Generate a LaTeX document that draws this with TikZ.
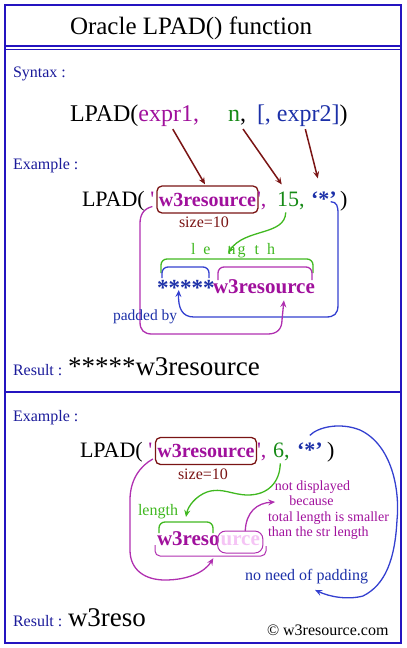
\documentclass[tikz,border=0pt]{standalone}
\usepackage{fontspec}
\setmainfont{Liberation Serif}
\newfontfamily\rs{Liberation Serif}
\usetikzlibrary{arrows.meta}
\definecolor{frameblue}{HTML}{2414C0}
\definecolor{lblblue}{HTML}{1A1A9A}
\definecolor{txtblue}{HTML}{1C30A8}
\definecolor{lineblue}{HTML}{3440D0}
\definecolor{purp}{HTML}{A0109C}
\definecolor{purpline}{HTML}{B030B0}
\definecolor{darkgreen}{HTML}{168A16}
\definecolor{ltgreen}{HTML}{40B820}
\definecolor{darkred}{HTML}{7A1414}
\definecolor{pinkish}{HTML}{F5C4F5}
\newcommand{\fz}[1]{\rs\fontsize{#1}{#1}\selectfont}
\begin{document}
\begin{tikzpicture}[x=1pt,y=-1pt,
  txt/.style={inner sep=0pt, outer sep=0pt, anchor=base west},
  lbl/.style={txt, text=lblblue, font=\fz{16}},
  tip/.style={-{Stealth[length=7pt,width=6pt,inset=2.5pt]}},
  redarr/.style={tip, draw=darkred, line width=1.5pt},
  grarr/.style={tip, draw=ltgreen, line width=1.3pt},
  blarr/.style={tip, draw=lineblue, line width=1.3pt},
  pparr/.style={tip, draw=purpline, line width=1.3pt},
  brace/.style={rounded corners=6pt, line width=1.3pt},
  strbox/.style={draw=darkred, line width=1.3pt, rounded corners=5pt, inner sep=0pt,
     minimum width=101pt, minimum height=27pt, text=purp, font=\fz{20}\bfseries}
]
\useasboundingbox (0,0) rectangle (407,648);
% frame
\draw[frameblue, line width=2pt] (5,5) rectangle (401,643);
\draw[frameblue, line width=1.2pt] (5,46) -- (401,46);
\draw[frameblue, line width=1.2pt] (5,49.5) -- (401,49.5);
\draw[frameblue, line width=1.2pt] (5,392) -- (401,392);

% title
\node[txt, font=\fz{25}] (title) at (70,34) {Oracle LPAD() function};

% syntax
\node[lbl] (syn) at (13,77) {Syntax :};
\node[txt, font=\fz{24}] (lp0) at (70,121) {LPAD(};
\node[txt, font=\fz{24}, text=purp] (e1) at (lp0.base east) {expr1,};
\node[txt, font=\fz{24}, text=darkgreen] (nn0) at (228,121) {n};
\node[txt, font=\fz{24}] (cm0) at (nn0.base east) {,};
\node[txt, font=\fz{24}, text=txtblue] (e2) at (257,121) {[, expr2]};
\node[txt, font=\fz{24}] (rp0) at (e2.base east) {)};

% example 1
\node[lbl] (ex1) at (13,169) {Example :};
\node[txt, font=\fz{22}] (lp1) at (82,206) {LPAD( \textcolor{purp}{'}};
\node[strbox] (box1) at (207.5,199.5) {w3resource};
\node[txt, font=\fz{22}, text=purp] (q1) at (257,206) {',};
\node[txt, font=\fz{22}, text=darkgreen] (n15) at (277,206) {15,};
\node[txt, font=\fz{22}\bfseries, text=txtblue] (st1) at (311,206) {‘*’};
\node[txt, font=\fz{22}] (rp1) at (340,206) {)};
\node[txt, font=\fz{16}, text=darkred] (sz1) at (179,227) {size=10};

\draw[redarr] ([xshift=4pt,yshift=-3pt]e1.south) -- ([xshift=-2.5pt,yshift=1pt]box1.north);
\draw[redarr] ([xshift=9pt,yshift=-8pt]nn0.south) -- ([xshift=-9pt,yshift=7pt]n15.north);
\draw[redarr] ([xshift=7pt,yshift=-3pt]e2.south) -- ([xshift=-6pt,yshift=13pt]st1.north);

\node[txt, font=\fz{16}, text=ltgreen] (len1) at (191,254)
  {l\hspace{8pt}e\hspace{17pt}n\hspace{2pt}g\hspace{9pt}t\hspace{8pt}h};
\draw[grarr] ([xshift=-5pt,yshift=-3pt]n15.south) .. controls (285,236) and (245,228) .. ([xshift=37pt,yshift=1pt]len1.base west);

\draw[brace, ltgreen] (161,273) -- (161,259) -- (313,259) -- (313,273);
\draw[brace, lineblue] (162,278) -- (162,267) -- (209,267) -- (209,278);
\draw[brace, purpline] (218,280) -- (218,267) -- (312,267) -- (312,280);

\node[txt, font=\fz{23}\bfseries, text=txtblue] (ast) at (157,295) {*****};
\node[txt, font=\fz{21}\bfseries, text=purp] (w3a) at (213,293) {w3resource};

\draw[blarr] ([xshift=-6pt,yshift=-3pt]st1.east) .. controls (337,202) and (338,206) .. (338,214)
  -- (338,305) .. controls (338,314) and (334,317) .. (326,317)
  -- (194,317) .. controls (182,317) and (178,308) .. ([xshift=-7pt,yshift=5pt]ast.south);
\draw[pparr] ([xshift=-4pt,yshift=-7pt]box1.west) .. controls (143,209) and (140,215) .. (140,224)
  -- (140,322) .. controls (140,330) and (144,334) .. (152,334)
  -- (268,334) .. controls (277,334) and (282,329) .. (282,320) -- ([xshift=20pt,yshift=-7pt]w3a.south);

\node[txt, font=\fz{15.5}, text=txtblue] (pad) at (113,320) {padded by};

% result 1
\node[lbl] (res1) at (13,375) {Result :};
\node[txt, font=\fz{27}] (r1) at (68,375) {*****w3resource};

% example 2
\node[lbl] (ex2) at (13,421) {Example :};
\node[txt, font=\fz{22}] (lp2) at (80,457) {LPAD( \textcolor{purp}{'}};
\node[strbox] (box2) at (206,451) {w3resource};
\node[txt, font=\fz{22}, text=purp] (q2) at (257,457) {',};
\node[txt, font=\fz{22}, text=darkgreen] (n6) at (273,457) {6,};
\node[txt, font=\fz{22}\bfseries, text=txtblue] (st2) at (297,457) {‘*’};
\node[txt, font=\fz{22}] (rp2) at (327,457) {)};
\node[txt, font=\fz{16}, text=darkred] (sz2) at (178,479) {size=10};

\node[txt, font=\fz{16}, text=ltgreen] (len2) at (138,515) {length};
\draw[grarr] ([xshift=-1pt,yshift=-3pt]n6.south) .. controls (280,482) and (268,495) .. (248,495)
  .. controls (232,495) and (222,487) .. (207,492)
  .. controls (196,496) and (188,506) .. ([xshift=8pt,yshift=-2pt]len2.base east);

\draw[brace, ltgreen] (159,533) -- (159,522) -- (213,522) -- (213,533);

\node[txt, font=\fz{21}\bfseries, text=purp] (w3b) at (157,545) {w3reso};
\node[txt, font=\fz{21}\bfseries, text=pinkish, draw=purpline, line width=1pt,
  rounded corners=8pt, inner xsep=3pt, inner ysep=4pt, text depth=4pt]
  (urce) at ([xshift=-2pt]w3b.base east) {urce};
\draw[rounded corners=5pt, line width=1pt, purpline] (155,545) -- (155,556) -- (266,556) -- (266,546);

\draw[pparr] ([xshift=-2pt,yshift=-8pt]box2.west) .. controls (140,466) and (130,480) .. (130,500)
  -- (130,550) .. controls (130,570) and (145,580) .. (165,580)
  .. controls (188,580) and (205,572) .. ([xshift=25pt,yshift=-13pt]w3b.south);

\node[inner sep=0pt, anchor=base, font=\fz{14}, text=purp] (t1) at (312.5,490) {not displayed};
\node[inner sep=0pt, anchor=base, font=\fz{14}, text=purp] (t2) at (311.5,505) {because};
\node[txt, font=\fz{14}, text=purp] (t3) at (268,521) {total length is smaller};
\node[txt, font=\fz{14}, text=purp] (t4) at (268,536) {than the str length};

\draw[pparr] ([xshift=5pt]urce.north) .. controls (246,512) and (257,503) .. ([xshift=-14pt,yshift=3pt]t2.base west);

\node[txt, font=\fz{16}, text=txtblue] (nn) at (245,580) {no need of padding};
\draw[blarr] ([yshift=7pt]st2.north) .. controls (318,427) and (340,422) .. (360,430)
  .. controls (392,445) and (400,490) .. (397,520)
  .. controls (395,560) and (385,585) .. (363,596)
  .. controls (348,600) and (330,597) .. ([xshift=8.5pt,yshift=-6.5pt]nn.south);

% result 2
\node[lbl] (res2) at (13,626) {Result :};
\node[txt, font=\fz{27}] (r2) at (68,626) {w3reso};
\node[txt, font=\fz{16}] (copy) at (267,635) {© w3resource.com};
\end{tikzpicture}
\end{document}
